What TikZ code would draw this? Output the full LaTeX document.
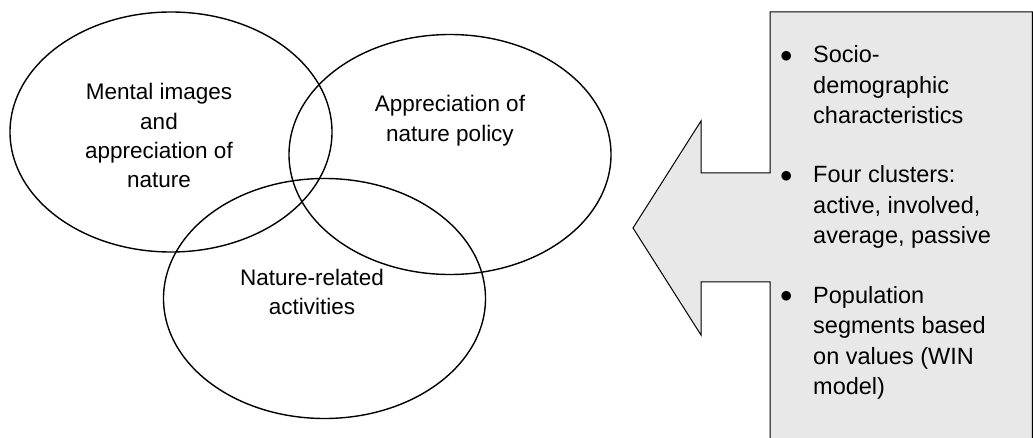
\documentclass[tikz,border=0pt]{standalone}
\usepackage{fontspec}
\setmainfont{Liberation Sans}
\usetikzlibrary{shapes.geometric}
\definecolor{boxgray}{RGB}{232,232,232}
\newcommand{\bigbul}{\raisebox{0.5pt}{$\bullet$}}
\begin{document}
\begin{tikzpicture}[x=1pt,y=-1pt,
  venn/.style={draw=black, line width=1.4pt, ellipse, minimum width=322pt, minimum height=240pt, inner sep=0pt},
  lbl/.style={anchor=base, inner sep=0pt, font=\fontsize{22.5}{29.2}\selectfont},
  item/.style={anchor=base west, inner sep=0pt, font=\fontsize{23.5}{30.5}\selectfont},
  arrowbox/.style={fill=boxgray, draw=black, line width=1pt, line join=miter}]
\useasboundingbox (0,0) rectangle (1033,438);
% ellipses
\node[venn] (e1) at (171,132) {};
\node[venn] (e2) at (450,154.5) {};
\node[venn] (e3) at (324.5,298.5) {};
% ellipse labels
\node[lbl] (t1) at (159,100) {\begin{tabular}[t]{@{}c@{}}Mental images\\and\\appreciation of\\nature\end{tabular}};
\node[lbl] (t2) at (450,112) {\begin{tabular}[t]{@{}c@{}}Appreciation of\\nature policy\end{tabular}};
\node[lbl] (t3) at (312,285.5) {\begin{tabular}[t]{@{}c@{}}Nature-related\\activities\end{tabular}};
% arrow box
\path[arrowbox] (770,446) -- (770,282) -- (701,282) -- (701,335) -- (633,228) -- (701,121) -- (701,173) -- (770,173) -- (770,12) -- (1032.4,12) -- (1032.4,446) -- cycle;
% bullet items
\node[item] (b1) at (780,63) {\begin{tabular}[t]{@{}p{33pt}@{}l@{}}\bigbul & Socio-\\ & demographic\\ & characteristics\end{tabular}};
\node[item] (b2) at (780,183) {\begin{tabular}[t]{@{}p{33pt}@{}l@{}}\bigbul & Four clusters:\\ & active, involved,\\ & average, passive\end{tabular}};
\node[item] (b3) at (780,303) {\begin{tabular}[t]{@{}p{33pt}@{}l@{}}\bigbul & Population\\ & segments based\\ & on values (WIN\\ & model)\end{tabular}};
\end{tikzpicture}
\end{document}
